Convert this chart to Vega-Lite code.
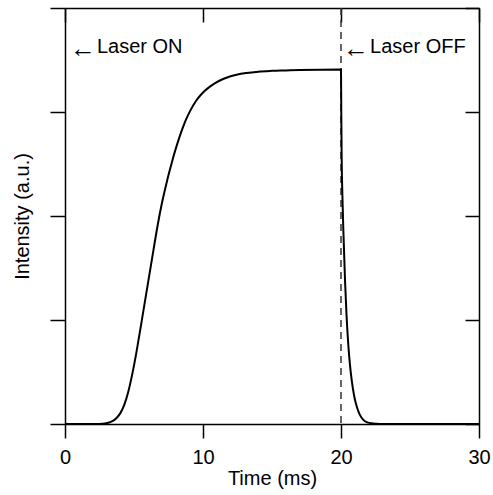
{
  "$schema": "https://vega.github.io/schema/vega-lite/v6.json",
  "autosize": {"type": "none"},
  "width": 414,
  "height": 416,
  "padding": {"left": 65, "top": 8, "right": 14, "bottom": 71},
  "background": "white",
  "config": {
    "view": {"stroke": null},
    "font": "Liberation Sans",
    "axis": {
      "domainColor": "black", "domainWidth": 1.5,
      "tickColor": "black", "tickWidth": 1.5,
      "grid": false, "labelColor": "black", "titleColor": "black",
      "labelFont": "Liberation Sans", "titleFont": "Liberation Sans",
      "labelFontSize": 20, "titleFontSize": 20, "titleFontWeight": "normal",
      "labelFlush": false
    }
  },
  "datasets": {
    "curve": [
      {"t": 0, "v": 0}, {"t": 2.5, "v": 0}, {"t": 3.0, "v": 0.002}, {"t": 3.25, "v": 0.0042},
      {"t": 3.5, "v": 0.008}, {"t": 3.75, "v": 0.015}, {"t": 4.0, "v": 0.0255}, {"t": 4.3, "v": 0.0465},
      {"t": 4.6, "v": 0.0795}, {"t": 4.9, "v": 0.124}, {"t": 5.2, "v": 0.177}, {"t": 5.5, "v": 0.236},
      {"t": 5.8, "v": 0.296}, {"t": 6.1, "v": 0.356}, {"t": 6.4, "v": 0.416}, {"t": 6.64, "v": 0.464},
      {"t": 6.82, "v": 0.497}, {"t": 7.0, "v": 0.527}, {"t": 7.2, "v": 0.557}, {"t": 7.4, "v": 0.585},
      {"t": 7.6, "v": 0.611}, {"t": 7.8, "v": 0.636}, {"t": 8.0, "v": 0.659}, {"t": 8.2, "v": 0.68},
      {"t": 8.4, "v": 0.7}, {"t": 8.6, "v": 0.718}, {"t": 8.8, "v": 0.734}, {"t": 9.06, "v": 0.752},
      {"t": 9.5, "v": 0.777}, {"t": 10.0, "v": 0.797}, {"t": 10.5, "v": 0.811}, {"t": 11.0, "v": 0.822},
      {"t": 11.5, "v": 0.83}, {"t": 12.0, "v": 0.836}, {"t": 12.5, "v": 0.84}, {"t": 13.0, "v": 0.843},
      {"t": 13.5, "v": 0.845}, {"t": 14.0, "v": 0.847}, {"t": 15.0, "v": 0.849}, {"t": 16.0, "v": 0.85},
      {"t": 17.0, "v": 0.851}, {"t": 20.0, "v": 0.852},
      {"t": 20.02, "v": 0.75}, {"t": 20.05, "v": 0.635}, {"t": 20.1, "v": 0.55}, {"t": 20.17, "v": 0.466},
      {"t": 20.29, "v": 0.346}, {"t": 20.4, "v": 0.262}, {"t": 20.53, "v": 0.19}, {"t": 20.65, "v": 0.142},
      {"t": 20.78, "v": 0.104}, {"t": 20.95, "v": 0.068}, {"t": 21.14, "v": 0.042}, {"t": 21.35, "v": 0.023},
      {"t": 21.62, "v": 0.01}, {"t": 21.9, "v": 0.004}, {"t": 22.3, "v": 0.0012}, {"t": 22.8, "v": 0},
      {"t": 30, "v": 0}
    ],
    "notes": [
      {"label": "Laser ON", "t": 0.36, "v": 0.906},
      {"label": "Laser OFF", "t": 20.15, "v": 0.906}
    ],
    "marker": [{"t": 20}]
  },
  "resolve": {"axis": {"x": "independent", "y": "independent"}},
  "layer": [
    {
      "data": {"name": "marker"},
      "mark": {"type": "rule", "color": "#333333", "strokeWidth": 1.5, "strokeDash": [7, 5]},
      "encoding": {
        "x": {"field": "t", "type": "quantitative",
              "scale": {"domain": [0, 30], "nice": false},
              "axis": {"orient": "top", "values": [0, 10, 20, 30], "tickSize": -14, "ticks": true, "labels": false, "title": null}}
      }
    },
    {
      "data": {"name": "curve"},
      "mark": {"type": "line", "color": "black", "strokeWidth": 2, "interpolate": "monotone"},
      "encoding": {
        "x": {"field": "t", "type": "quantitative",
              "scale": {"domain": [0, 30], "nice": false},
              "axis": {"orient": "bottom", "values": [0, 10, 20, 30], "tickSize": 14, "labelPadding": 9,
                       "title": "Time (ms)", "titlePadding": 1}},
        "y": {"field": "v", "type": "quantitative",
              "scale": {"domain": [0, 1], "nice": false},
              "axis": {"orient": "left", "values": [0, 0.25, 0.5, 0.75, 1], "tickSize": 15, "labels": false,
                       "title": "Intensity (a.u.)", "titlePadding": 17}}
      }
    },
    {
      "data": {"name": "notes"},
      "mark": {"type": "text", "align": "left", "baseline": "middle", "fontSize": 26, "font": "Liberation Sans", "color": "black", "dy": 2},
      "encoding": {
        "x": {"field": "t", "type": "quantitative", "axis": null},
        "y": {"field": "v", "type": "quantitative", "axis": null},
        "text": {"value": "←"}
      }
    },
    {
      "data": {"name": "notes"},
      "mark": {"type": "text", "align": "left", "baseline": "middle", "fontSize": 20, "font": "Liberation Sans", "color": "black", "dx": 27},
      "encoding": {
        "x": {"field": "t", "type": "quantitative", "axis": null},
        "y": {"field": "v", "type": "quantitative",
              "axis": {"orient": "right", "values": [0, 0.25, 0.5, 0.75, 1], "tickSize": -14, "ticks": true, "labels": false, "title": null}},
        "text": {"field": "label"}
      }
    }
  ]
}
